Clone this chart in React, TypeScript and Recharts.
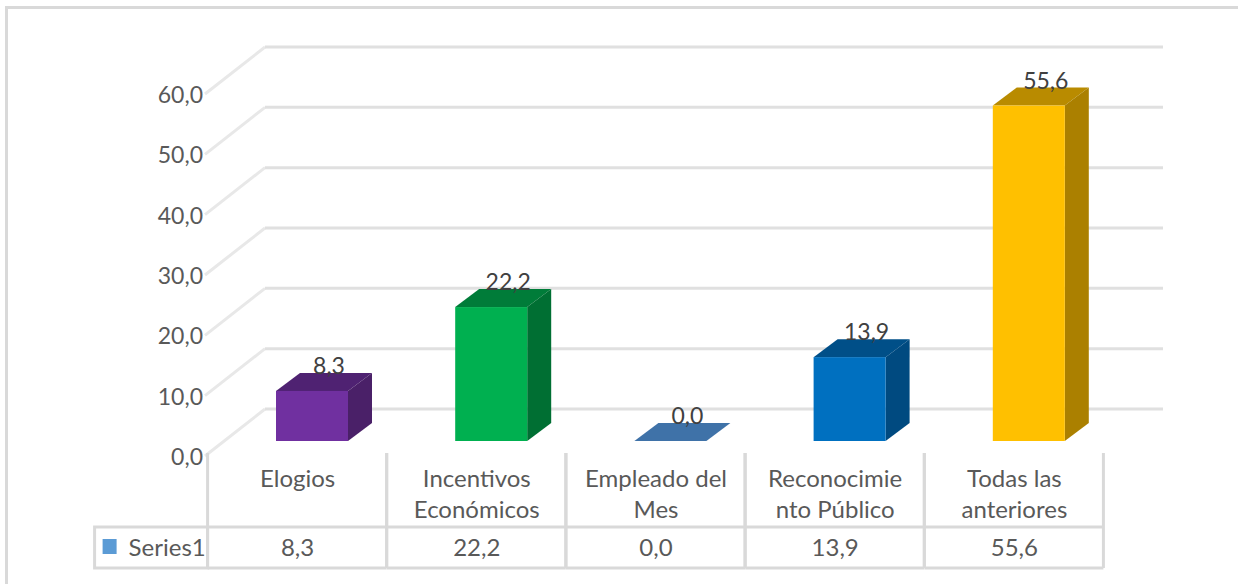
import React from "react";
import { BarChart, Bar, XAxis, YAxis, CartesianGrid, LabelList } from "recharts";

const categories = ["Elogios", "Incentivos\nEconómicos", "Empleado del\nMes", "Reconocimie\nnto Público", "Todas las\nanteriores"];
const seriesValues = [8.3, 22.2, 0.0, 13.9, 55.6];
const yTicks = [0, 10, 20, 30, 40, 50, 60];
const seriesName = "Series1";

const data = categories.map((name, i) => ({ name, value: seriesValues[i] }));

// front, top, side
const barColors = [
  ["#7030a0", "#4f2272", "#4a2068"],
  ["#00b050", "#007c39", "#006f33"],
  ["#3f72a8", "#3f72a8", "#3f72a8"],
  ["#0070c0", "#004f88", "#004a80"],
  ["#ffc000", "#b98b00", "#ab8000"],
];

const fmt = (v: number) => v.toFixed(1).replace(".", ",");

const FONT = "Lato, sans-serif";
const TEXT = "#595959";
const LINE = "#d9d9d9";
// front of the bars sits inside the floor, the back wall further away
const BAR_DX = 14;
const BAR_DY = -13;
const DEPTH_X = 24;
const DEPTH_Y = 18;
const WALL_DX = 57;
const WALL_DY = -45;

const Bar3D = (props: any) => {
  const { x, y, width, height, index } = props;
  const [front, top, side] = barColors[index];
  const l = x + BAR_DX;
  const r = l + width;
  const t = y + BAR_DY;
  const b = t + height;
  return (
    <g>
      <polygon points={`${l},${t} ${l + DEPTH_X},${t - DEPTH_Y} ${r + DEPTH_X},${t - DEPTH_Y} ${r},${t}`} fill={top} />
      {height > 0 && (
        <polygon points={`${r},${t} ${r + DEPTH_X},${t - DEPTH_Y} ${r + DEPTH_X},${b - DEPTH_Y} ${r},${b}`} fill={side} />
      )}
      {height > 0 && <rect x={l} y={t} width={width} height={height} fill={front} />}
    </g>
  );
};

const BarValue = (props: any) => {
  const { x, y, width, value } = props;
  return (
    <text x={x + width / 2 + BAR_DX + DEPTH_X / 2 + 5} y={y + BAR_DY - DEPTH_Y + 1} textAnchor="middle" fontSize={23} fontFamily={FONT} fill="#404040">
      {fmt(value)}
    </text>
  );
};

const YTick = (props: any) => {
  const { x, y, payload } = props;
  return (
    <text x={x + 3} y={y} dy={11} textAnchor="end" fontSize={23} fontFamily={FONT} fill={TEXT}>
      {fmt(payload.value)}
    </text>
  );
};

// category label + table cell under it
const TableTick = (props: any) => {
  const { x, y, payload, index } = props;
  const step = 179;
  const left = x - step / 2 - 0.5;
  const lines = String(payload.value).split("\n");
  return (
    <g fontFamily={FONT} fontSize={24} fill={TEXT}>
      <line x1={left} y1={y - 9} x2={left} y2={y + 106} stroke={LINE} strokeWidth={3} />
      <line x1={left + step} y1={y - 9} x2={left + step} y2={y + 106} stroke={LINE} strokeWidth={3} />
      <line x1={left} y1={y + 65} x2={left + step} y2={y + 65} stroke={LINE} strokeWidth={3} />
      <line x1={left} y1={y + 106} x2={left + step} y2={y + 106} stroke={LINE} strokeWidth={3} />
      {lines.map((t, i) => (
        <text key={i} x={x} y={y + 25 + i * 31} textAnchor="middle">
          {t}
        </text>
      ))}
      <text x={x} y={y + 94} textAnchor="middle">
        {fmt(seriesValues[index])}
      </text>
      {index === 0 && (
        <g>
          <rect x={left - 113} y={y + 65} width={113} height={41} fill="none" stroke={LINE} strokeWidth={3} />
          <rect x={left - 105} y={y + 77} width={14} height={15} fill="#5b9bd5" />
          <text x={left - 79} y={y + 94}>
            {seriesName}
          </text>
        </g>
      )}
    </g>
  );
};

// horizontal lines on the back wall, joined to the axis along the side wall
const WallLine = (props: any) => {
  const { x1, x2, y1 } = props;
  return (
    <g stroke="#e0e0e0" strokeWidth={3} fill="none">
      <line x1={x1 - 3} y1={y1 + 2} x2={x1 + WALL_DX} y2={y1 + WALL_DY} stroke="#e8e8e8" />
      <line x1={x1 + WALL_DX} y1={y1 + WALL_DY} x2={x2 + WALL_DX + 2} y2={y1 + WALL_DY} />
    </g>
  );
};

export default function App() {
  return (
    <div style={{ position: "absolute", left: 0, top: 0, width: 1238, height: 584, background: "#fff", overflow: "hidden" }}>
      <div
        style={{
          position: "absolute",
          left: 5,
          top: 6,
          width: 1230,
          height: 600,
          borderLeft: "3px solid #d9d9d9",
          borderTop: "3px solid #d9d9d9",
          borderRight: "2px solid #d9d9d9",
        }}
      />
      <div style={{ position: "absolute", left: 0, top: 0 }}>
        <BarChart
          width={1238}
          height={584}
          data={data}
          barCategoryGap="30%"
          margin={{ top: 92, right: 134, bottom: 10, left: 128 }}
        >
          <CartesianGrid vertical={false} horizontal={(p: any) => <WallLine key={p.index} {...p} />} syncWithTicks />
          <XAxis dataKey="name" height={120} axisLine={false} tickLine={false} interval={0} tick={<TableTick />} />
          <YAxis width={80} domain={[0, 60]} ticks={yTicks} axisLine={false} tickLine={false} tick={<YTick />} />
          <Bar dataKey="value" name={seriesName} shape={<Bar3D />} barSize={72} isAnimationActive={false}>
            <LabelList dataKey="value" content={<BarValue />} />
          </Bar>
        </BarChart>
      </div>
    </div>
  );
}
